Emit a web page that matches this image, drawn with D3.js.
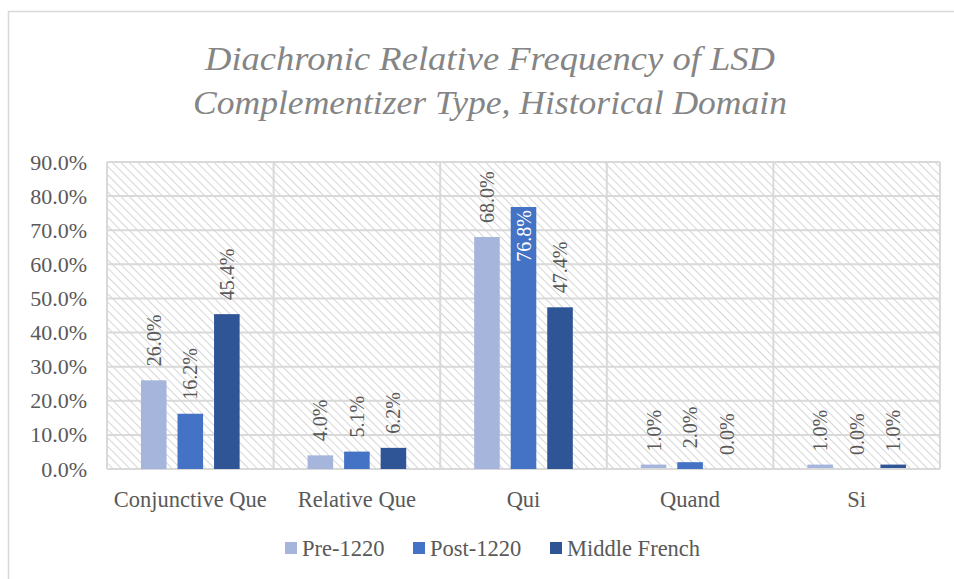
<!DOCTYPE html>
<html>
<head>
<meta charset="utf-8">
<script src="https://cdn.jsdelivr.net/npm/d3@7"></script>
<style>
  body { margin: 0; background: #fff; }
  svg { display: block; }
  text { font-family: "Liberation Serif", "DejaVu Serif", serif; }
</style>
</head>
<body>
<svg id="chart" width="954" height="579"></svg>
<script>
// data
const categories = ['Conjunctive Que', 'Relative Que', 'Qui', 'Quand', 'Si'];
const seriesNames = ['Pre-1220', 'Post-1220', 'Middle French'];
const pre1220 = [26.0, 4.0, 68.0, 1.0, 1.0];
const post1220 = [16.2, 5.1, 76.8, 2.0, 0.0];
const middleFrench = [45.4, 6.2, 47.4, 0.0, 1.0];
const yTicks = [0, 10, 20, 30, 40, 50, 60, 70, 80, 90];
const colors = ['#a6b5dc', '#4472c4', '#2f5597'];
const titleLines = ['Diachronic Relative Frequency of  LSD', 'Complementizer Type, Historical Domain'];

const series = [pre1220, post1220, middleFrench];
const rows = categories.map((c, i) => ({
  category: c,
  values: series.map((s, j) => ({ key: seriesNames[j], value: s[i], color: colors[j] }))
}));

const svg = d3.select('#chart');
const plot = { left: 107, right: 940, top: 162, bottom: 469 };
const grey = '#d9d9d9';

// outer chart frame (cropped screenshot)
svg.append('rect')
  .attr('x', 8.5).attr('y', 11.5)
  .attr('width', 1000).attr('height', 1000)
  .attr('fill', 'none').attr('stroke', grey).attr('stroke-width', 1.5);

// hatch pattern, lines running top-left to bottom-right
const defs = svg.append('defs');
const pat = defs.append('pattern')
  .attr('id', 'hatch')
  .attr('patternUnits', 'userSpaceOnUse')
  .attr('width', 6).attr('height', 6)
  .attr('patternTransform', 'rotate(-45)');
pat.append('rect').attr('width', 6).attr('height', 6).attr('fill', '#fff');
pat.append('line')
  .attr('x1', 0).attr('y1', 0).attr('x2', 0).attr('y2', 6)
  .attr('stroke', '#d6d6d6').attr('stroke-width', 2);

// title
svg.append('g').selectAll('text')
  .data(titleLines)
  .join('text')
  .attr('x', 490)
  .attr('y', (d, i) => 70 + i * 44)
  .attr('text-anchor', 'middle')
  .attr('font-size', 34)
  .attr('font-style', 'italic')
  .attr('fill', '#858585')
  .attr('textLength', (d, i) => i === 0 ? 570 : 594)
  .attr('lengthAdjust', 'spacingAndGlyphs')
  .text(d => d);

// scales
const x = d3.scaleBand()
  .domain(categories)
  .range([plot.left, plot.right])
  .paddingInner(0).paddingOuter(0);

const xInner = d3.scaleBand()
  .domain(seriesNames)
  .range([0, x.bandwidth()])
  .paddingInner(0.3)
  .paddingOuter(0.93);

const y = d3.scaleLinear()
  .domain([0, 90])
  .range([plot.bottom, plot.top]);

// plot background
svg.append('rect')
  .attr('x', plot.left).attr('y', plot.top)
  .attr('width', plot.right - plot.left).attr('height', plot.bottom - plot.top)
  .attr('fill', 'url(#hatch)');

// horizontal gridlines
svg.append('g').selectAll('line')
  .data(yTicks)
  .join('line')
  .attr('x1', plot.left).attr('x2', plot.right)
  .attr('y1', d => y(d)).attr('y2', d => y(d))
  .attr('stroke', grey).attr('stroke-width', 2);

// vertical category lines
const bounds = categories.map(c => x(c)).concat([plot.right]);
svg.append('g').selectAll('line')
  .data(bounds)
  .join('line')
  .attr('x1', d => d).attr('x2', d => d)
  .attr('y1', plot.top).attr('y2', plot.bottom)
  .attr('stroke', grey).attr('stroke-width', 2);

// y axis labels
const yAxis = d3.axisLeft(y)
  .tickValues(yTicks)
  .tickSize(0)
  .tickPadding(20)
  .tickFormat(d => d.toFixed(1) + '%');
const yg = svg.append('g')
  .attr('transform', `translate(${plot.left},0)`)
  .call(yAxis);
yg.select('.domain').remove();
yg.selectAll('text')
  .attr('font-family', '"Liberation Serif", serif')
  .attr('font-size', 22)
  .attr('fill', '#595959');

// x axis labels
const xAxis = d3.axisBottom(x).tickSize(0).tickPadding(22);
const xg = svg.append('g')
  .attr('transform', `translate(0,${plot.bottom})`)
  .call(xAxis);
xg.select('.domain').remove();
xg.selectAll('text')
  .attr('font-family', '"Liberation Serif", serif')
  .attr('font-size', 22.5)
  .attr('fill', '#595959');

// bars
const groups = svg.append('g').selectAll('g')
  .data(rows)
  .join('g')
  .attr('transform', d => `translate(${x(d.category)},0)`);

groups.selectAll('rect')
  .data(d => d.values)
  .join('rect')
  .attr('x', d => xInner(d.key))
  .attr('width', xInner.bandwidth())
  .attr('y', d => y(d.value) - (d.value > 0 && d.value < 1.5 ? 1 : 0))
  .attr('height', d => d.value > 0 ? Math.max(y(0) - y(d.value), 2) : 0)
  .attr('fill', d => d.color);

// value labels (rotated)
const labelFont = 20;
groups.selectAll('text')
  .data(d => d.values)
  .join('text')
  .each(function (d) {
    const cx = xInner(d.key) + xInner.bandwidth() / 2;
    const top = y(d.value);
    const inside = top - 15 - 55 < plot.top;
    const t = d3.select(this);
    if (inside) {
      t.attr('transform', `translate(${cx},${top + 3}) rotate(-90)`)
        .attr('text-anchor', 'end')
        .attr('fill', '#ffffff');
    } else {
      t.attr('transform', `translate(${cx},${top - 14}) rotate(-90)`)
        .attr('text-anchor', 'start')
        .attr('fill', '#595959');
    }
  })
  .attr('dy', '0.35em')
  .attr('font-size', labelFont)
  .text(d => d.value.toFixed(1) + '%');

// legend
const legendX = [285, 413, 550];
const legend = svg.append('g').selectAll('g')
  .data(seriesNames)
  .join('g')
  .attr('transform', (d, i) => `translate(${legendX[i]},548)`);
legend.append('rect')
  .attr('x', 0).attr('y', -6)
  .attr('width', 12).attr('height', 12)
  .attr('fill', (d, i) => colors[i]);
legend.append('text')
  .attr('x', 17).attr('y', 0)
  .attr('dy', '0.35em')
  .attr('font-size', 22.5)
  .attr('fill', '#595959')
  .text(d => d);
</script>
</body>
</html>
